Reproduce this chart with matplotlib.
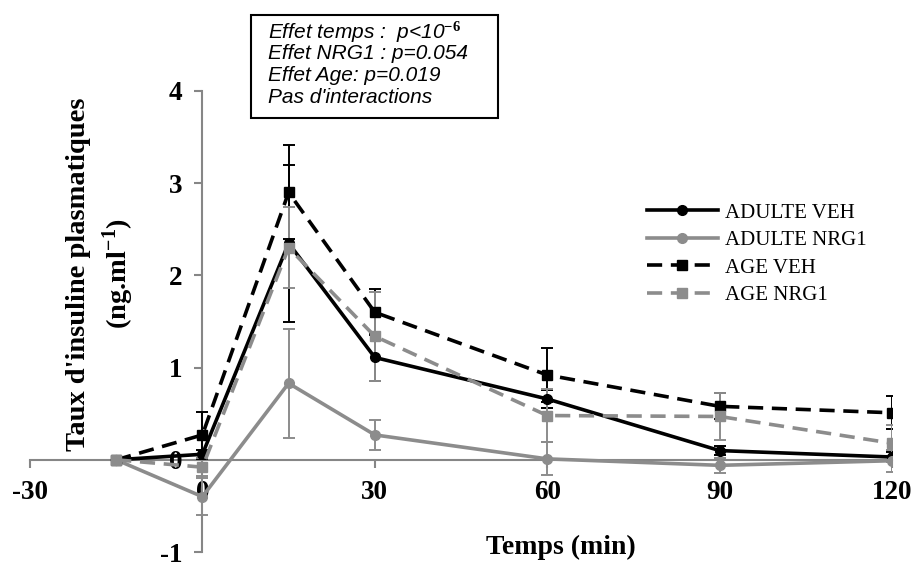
import matplotlib
matplotlib.use('Agg')
import matplotlib.pyplot as plt
from matplotlib.patches import Rectangle

# police
plt.rcParams['font.family'] = 'Liberation Serif'
plt.rcParams['axes.unicode_minus'] = False
plt.rcParams['mathtext.fontset'] = 'custom'
plt.rcParams['mathtext.bf'] = 'Liberation Serif:bold'
plt.rcParams['mathtext.it'] = 'Liberation Sans:italic'
plt.rcParams['mathtext.rm'] = 'Liberation Serif:bold'

# donnees
temps = [-15, 0, 15, 30, 60, 90, 120]

adulte_veh = [0, 0.06, 2.35, 1.11, 0.66, 0.10, 0.03]
adulte_veh_err = [0, 0.05, 0.85, 0.25, 0.10, 0.05, 0.05]

adulte_nrg1 = [0, -0.40, 0.83, 0.27, 0.01, -0.06, -0.01]
adulte_nrg1_err = [0, 0.20, 0.59, 0.16, 0.18, 0.08, 0.12]

age_veh = [0, 0.27, 2.90, 1.60, 0.92, 0.58, 0.51]
age_veh_err = [0, 0.25, 0.51, 0.25, 0.29, 0.14, 0.18]

age_nrg1 = [0, -0.08, 2.30, 1.34, 0.48, 0.47, 0.18]
age_nrg1_err = [0, 0.10, 0.44, 0.48, 0.29, 0.25, 0.20]

xticks = [-30, 0, 30, 60, 90, 120]
yticks = [-1, 0, 1, 2, 3, 4]

stats = ['Effet temps :  p<10$^{\\mathit{-6}}$',
         'Effet NRG1 : p=0.054',
         'Effet Age: p=0.019',
         "Pas d'interactions"]

gris = '#8c8c8c'
tirets = (0, (4.2, 2.4))

fig = plt.figure(figsize=(9.15, 5.63), dpi=100)
ax = fig.add_axes([30/915, 1-552/563, 862/915, 461/563])

series = [
    (adulte_veh, adulte_veh_err, 'black', '-', 'o', 'ADULTE VEH'),
    (adulte_nrg1, adulte_nrg1_err, gris, '-', 'o', 'ADULTE NRG1'),
    (age_veh, age_veh_err, 'black', tirets, 's', 'AGE VEH'),
    (age_nrg1, age_nrg1_err, gris, tirets, 's', 'AGE NRG1'),
]

for y, e, c, ls, m, lab in series:
    ax.errorbar(temps[1:], y[1:], yerr=e[1:], fmt='none', ecolor=c,
                elinewidth=1.4, capsize=4.5, capthick=1.4, zorder=2)
    ax.plot(temps, y, color=c, linestyle=ls, lw=2.6, marker=m,
            markersize=7 if m == 'o' else 7.5, label=lab, zorder=3)

ax.set_xlim(-30, 120)
ax.set_ylim(-1, 4)
ax.set_xticks(xticks)
ax.set_yticks(yticks)

for s in ['top', 'right']:
    ax.spines[s].set_visible(False)
ax.spines['left'].set_position(('data', 0))
ax.spines['bottom'].set_position(('data', 0))
for s in ['left', 'bottom']:
    ax.spines[s].set_color('#868686')
    ax.spines[s].set_linewidth(1.5)
    ax.spines[s].set_zorder(1)

ax.tick_params(axis='both', direction='out', color='#868686', width=1.5,
               length=5.5, labelsize=19.5)
ax.tick_params(axis='x', pad=9)
ax.tick_params(axis='y', pad=9)
for t in ax.get_xticklabels() + ax.get_yticklabels():
    t.set_fontweight('bold')
ax.patch.set_visible(False)

fig.text(101/915, 1-274/563,
         "Taux d'insuline plasmatiques\n(ng.ml$^{\\mathbf{-1}}$)",
         rotation=90, ha='center', va='center', fontsize=20.5,
         fontweight='bold', multialignment='center', linespacing=1.35)
fig.text(561/915, 1-547/563, 'Temps (min)', ha='center', va='center',
         fontsize=20, fontweight='bold')

ax.legend(loc='upper left', bbox_to_anchor=(647/915, 1-203/563),
          bbox_transform=fig.transFigure, frameon=False, fontsize=15,
          borderpad=0, borderaxespad=0, handlelength=3.4,
          handletextpad=0.35, labelspacing=0.38)

fig.patches.append(Rectangle((251/915, 1-118/563), 247/915, 103/563,
                             transform=fig.transFigure, fill=False,
                             edgecolor='black', lw=1.5))
for i, s in enumerate(stats):
    fig.text(268/915, 1-(32+21.7*i)/563, s, ha='left', va='center',
             fontsize=15, family='Liberation Sans', style='italic')

fig.savefig('out.png', dpi=100)
